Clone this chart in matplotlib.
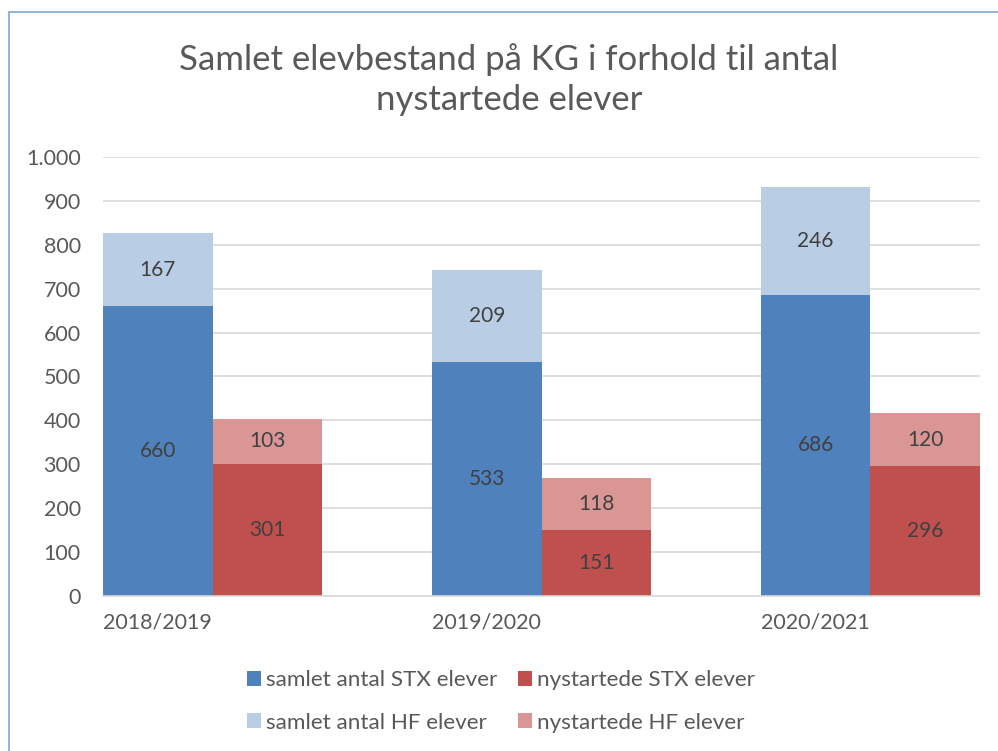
import matplotlib
matplotlib.use('Agg')
import matplotlib.pyplot as plt
from matplotlib.patches import Rectangle
from matplotlib.ticker import FuncFormatter

plt.rcParams['font.family'] = ['Lato', 'DejaVu Sans']

# data
years = ['2018/2019', '2019/2020', '2020/2021']
stx_total = [660, 533, 686]
hf_total = [167, 209, 246]
stx_new = [301, 151, 296]
hf_new = [103, 118, 120]

c_stx_total = '#4f81bd'
c_hf_total = '#b9cde5'
c_stx_new = '#c0504d'
c_hf_new = '#d99694'
txt = '#404040'

fig = plt.figure(figsize=(9.98, 7.51), dpi=100)
ax = fig.add_axes([0.1032, 0.2064, 0.8788, 0.5846])

xb = [3 * i for i in range(len(years))]
xr = [3 * i + 1 for i in range(len(years))]

b1 = ax.bar(xb, stx_total, width=1, color=c_stx_total, label='samlet antal STX elever')
b2 = ax.bar(xb, hf_total, width=1, bottom=stx_total, color=c_hf_total, label='samlet antal HF elever')
r1 = ax.bar(xr, stx_new, width=1, color=c_stx_new, label='nystartede STX elever')
r2 = ax.bar(xr, hf_new, width=1, bottom=stx_new, color=c_hf_new, label='nystartede HF elever')

for bars in (b1, b2, r1, r2):
    ax.bar_label(bars, label_type='center', fontsize=15, color=txt)

ax.set_xlim(-0.5, 7.5)
ax.set_ylim(0, 1000)
ax.set_yticks(range(0, 1001, 100))
ax.yaxis.set_major_formatter(FuncFormatter(lambda v, p: f'{int(v):,}'.replace(',', '.')))
ax.set_xticks(xb)
ax.set_xticklabels(years)
ax.tick_params(axis='both', length=0, labelsize=15.5, labelcolor='#595959')
ax.tick_params(axis='y', pad=16)
ax.tick_params(axis='x', pad=12)
ax.grid(axis='y', color='#d9d9d9', linewidth=1.2)
ax.set_axisbelow(True)
for s in ['top', 'right', 'left']:
    ax.spines[s].set_visible(False)
ax.spines['bottom'].set_color('#d9d9d9')
ax.spines['bottom'].set_linewidth(1.2)

fig.text(0.51, 0.894, 'Samlet elevbestand på KG i forhold til antal\nnystartede elever',
         ha='center', va='center', fontsize=25, color='#595959', linespacing=1.28)

handles = [b1, b2, r1, r2]
labels = [h.get_label() for h in handles]
fig.legend(handles, labels, ncol=2, loc='center', bbox_to_anchor=(0.502, 0.066),
           frameon=False, fontsize=16.2, labelcolor='#595959',
           handlelength=0.62, handleheight=0.62, handletextpad=0.25,
           columnspacing=0.9, labelspacing=1.0)

fig.patches.append(Rectangle((0.009, -0.2), 1.2, 1.184, transform=fig.transFigure,
                             fill=False, edgecolor='#7fa5d6', linewidth=1.2))

fig.savefig('out.png', dpi=100)
